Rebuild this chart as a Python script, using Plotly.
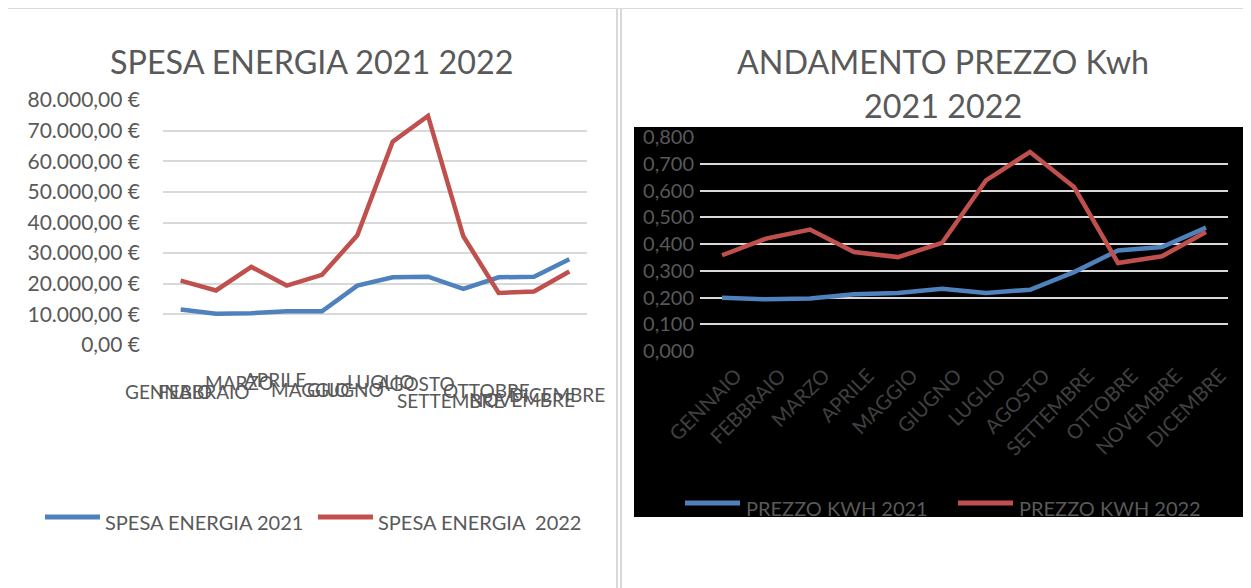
import plotly.graph_objects as go

# dati
mesi = ["GENNAIO", "FEBBRAIO", "MARZO", "APRILE", "MAGGIO", "GIUGNO",
        "LUGLIO", "AGOSTO", "SETTEMBRE", "OTTOBRE", "NOVEMBRE", "DICEMBRE"]

spesa_2021 = [11600, 10200, 10400, 11000, 11000, 19400,
              22100, 22300, 18300, 22100, 22300, 28000]
spesa_2022 = [21000, 17800, 25500, 19400, 22900, 35800,
              66400, 74800, 35500, 17000, 17500, 24000]

prezzo_2021 = [0.199, 0.193, 0.196, 0.212, 0.217, 0.233,
               0.217, 0.229, 0.295, 0.376, 0.389, 0.461]
prezzo_2022 = [0.358, 0.420, 0.454, 0.370, 0.351, 0.404,
               0.638, 0.744, 0.613, 0.329, 0.354, 0.445]

nomi_spesa = ["SPESA ENERGIA 2021", "SPESA ENERGIA\u00a0 2022"]
nomi_prezzo = ["PREZZO KWH 2021", "PREZZO KWH 2022"]

BLU = "#4f81bd"
ROSSO = "#c0504d"
GRIGIO = "#595959"
FONT = "Lato, Carlito, Calibri, sans-serif"

W, H = 1251, 588
OFF = 8  # margine del body della pagina


def fx(x):
    return (x - OFF) / W


def fy(y):
    return 1 - (y - OFF) / H


fig = go.Figure()

# grafico sinistro
fig.add_trace(go.Scatter(x=mesi, y=spesa_2021, mode="lines", name=nomi_spesa[0],
                         line=dict(color=BLU, width=4.5), xaxis="x", yaxis="y"))
fig.add_trace(go.Scatter(x=mesi, y=spesa_2022, mode="lines", name=nomi_spesa[1],
                         line=dict(color=ROSSO, width=4.5), xaxis="x", yaxis="y"))

# grafico destro
fig.add_trace(go.Scatter(x=mesi, y=prezzo_2021, mode="lines", name=nomi_prezzo[0],
                         line=dict(color=BLU, width=4.5), xaxis="x2", yaxis="y2"))
fig.add_trace(go.Scatter(x=mesi, y=prezzo_2022, mode="lines", name=nomi_prezzo[1],
                         line=dict(color=ROSSO, width=4.5), xaxis="x2", yaxis="y2"))

shapes = [
    # sfondo nero del secondo grafico
    dict(type="rect", xref="paper", yref="paper", x0=fx(634), x1=fx(1243),
         y0=fy(517), y1=fy(127), fillcolor="black", line=dict(width=0), layer="below"),
    # cornici
    dict(type="line", xref="paper", yref="paper", x0=0, x1=1, y0=fy(8), y1=fy(8),
         line=dict(color="#d9d9d9", width=2)),
    dict(type="line", xref="paper", yref="paper", x0=fx(7), x1=fx(7), y0=0, y1=fy(8),
         line=dict(color="#d9d9d9", width=2)),
    dict(type="line", xref="paper", yref="paper", x0=fx(617), x1=fx(617), y0=0, y1=fy(8),
         line=dict(color="#d9d9d9", width=2)),
    dict(type="line", xref="paper", yref="paper", x0=fx(621), x1=fx(621), y0=0, y1=fy(8),
         line=dict(color="#d9d9d9", width=2)),
]

annotations = [
    dict(text="SPESA ENERGIA 2021 2022", x=fx(312), y=fy(62), xref="paper", yref="paper",
         xanchor="center", yanchor="middle", showarrow=False,
         font=dict(size=32.3, color=GRIGIO, family=FONT)),
    dict(text="ANDAMENTO PREZZO Kwh", x=fx(943), y=fy(62), xref="paper", yref="paper",
         xanchor="center", yanchor="middle", showarrow=False,
         font=dict(size=32.3, color=GRIGIO, family=FONT)),
    dict(text="2021 2022", x=fx(943), y=fy(105), xref="paper", yref="paper",
         xanchor="center", yanchor="middle", showarrow=False,
         font=dict(size=32.3, color=GRIGIO, family=FONT)),
]

# etichette sovrapposte dell'asse x sinistro (come nell'originale)
alt_etichette = [392, 392, 382, 379, 389, 389, 381, 383, 400, 390, 399, 394]
for mese, yy in zip(mesi, alt_etichette):
    annotations.append(dict(text=mese, x=mese, y=fy(yy), xref="x", yref="paper",
                            xanchor="center", yanchor="middle", xshift=-12,
                            showarrow=False,
                            font=dict(size=19, color=GRIGIO, family=FONT)))

# legende
legende = [
    (45, 100, 103, 519, BLU, nomi_spesa[0]),
    (318, 373, 376, 519, ROSSO, nomi_spesa[1]),
    (685, 740, 744, 505, BLU, nomi_prezzo[0]),
    (958, 1013, 1017, 505, ROSSO, nomi_prezzo[1]),
]
for x0, x1, xt, yy, col, nome in legende:
    shapes.append(dict(type="line", xref="paper", yref="paper", x0=fx(x0), x1=fx(x1),
                       y0=fy(yy - 2), y1=fy(yy - 2), line=dict(color=col, width=5)))
    annotations.append(dict(text=nome, x=fx(xt), y=fy(yy + 3), xref="paper", yref="paper",
                            xanchor="left", yanchor="middle", showarrow=False,
                            font=dict(size=20, color=GRIGIO, family=FONT)))

fig.update_layout(
    width=W, height=H,
    margin=dict(l=0, r=0, t=0, b=0, autoexpand=False),
    paper_bgcolor="white",
    plot_bgcolor="rgba(0,0,0,0)",
    separators=",.",
    showlegend=False,
    font=dict(family=FONT, color=GRIGIO),
    xaxis=dict(domain=[fx(163), fx(587)], anchor="y", type="category",
               range=[-0.5, 11.5], showticklabels=False, showgrid=False,
               zeroline=False, showline=False, ticks="", automargin=False),
    yaxis=dict(domain=[fy(345), fy(100)], anchor="x", range=[0, 80000], dtick=10000,
               tickformat=",.2f", ticksuffix=" €", gridcolor="#d9d9d9", gridwidth=1.5,
               zeroline=False, showline=False, ticklabelstandoff=22, automargin=False,
               tickfont=dict(size=21, color=GRIGIO, family=FONT)),
    xaxis2=dict(domain=[fx(700), fx(1228)], anchor="y2", type="category",
                range=[-0.5, 11.5], tickangle=-45, showgrid=False, zeroline=False,
                showline=False, ticks="", automargin=False,
                ticklabelstandoff=8, ticklabelshift=14,
                tickfont=dict(size=20, color="#404040", family=FONT)),
    yaxis2=dict(domain=[fy(351), fy(137)], anchor="x2", range=[0, 0.8], dtick=0.1,
                tickformat=".3f", gridcolor="#d9d9d9", gridwidth=2,
                zeroline=False, showline=False, ticklabelstandoff=5, automargin=False,
                tickfont=dict(size=20, color=GRIGIO, family=FONT)),
    shapes=shapes,
    annotations=annotations,
)

fig.write_html("out.html")
